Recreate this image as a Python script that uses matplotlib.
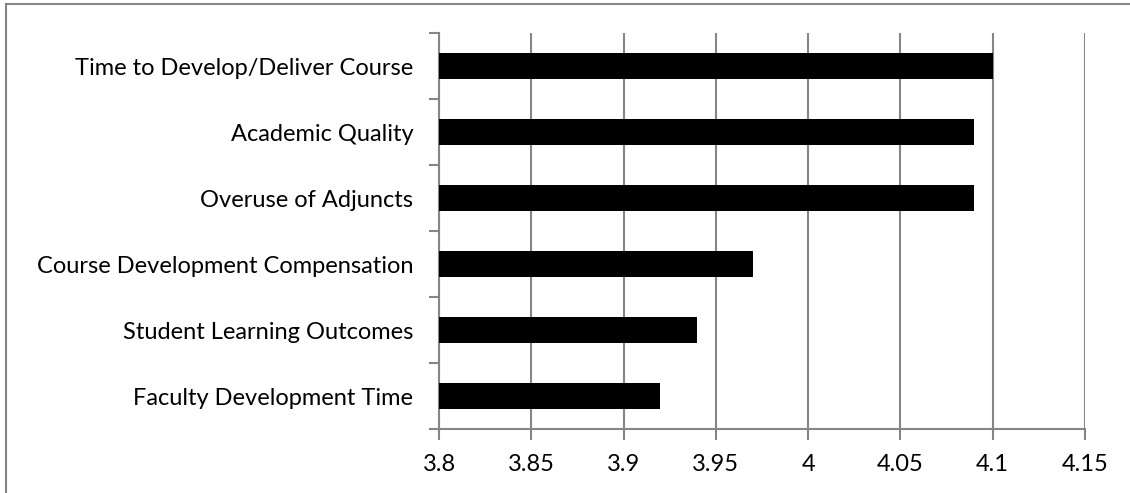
import matplotlib.pyplot as plt
from matplotlib.lines import Line2D
import numpy as np

# mean ratings per barrier, bottom to top
categories = [
    "Faculty Development Time",
    "Student Learning Outcomes",
    "Course Development Compensation",
    "Overuse of Adjuncts",
    "Academic Quality",
    "Time to Develop/Deliver Course",
]
values = [3.92, 3.94, 3.97, 4.09, 4.09, 4.10]
xticks = [3.8, 3.85, 3.9, 3.95, 4.0, 4.05, 4.1, 4.15]
xtick_labels = ["3.8", "3.85", "3.9", "3.95", "4", "4.05", "4.1", "4.15"]

plt.rcParams["font.family"] = ["Lato", "DejaVu Sans"]
grey = "#868686"

fig = plt.figure(figsize=(11.3, 4.93), dpi=100)
ax = fig.add_axes([0.3885, 0.1298, 0.9602 - 0.3885, 0.933 - 0.1298])

y = np.arange(len(categories))
ax.barh(y, np.array(values) - 3.8, left=3.8, height=0.38, color="black", zorder=3)

ax.set_xlim(3.8, 4.15)
ax.set_ylim(-0.5, len(categories) - 0.5)
ax.set_xticks(xticks)
ax.set_xticklabels(xtick_labels, fontsize=17)
ax.set_yticks(y)
ax.set_yticklabels(categories, fontsize=17)

# category separators as minor ticks, labels on the major ones
ax.set_yticks(np.arange(len(categories) + 1) - 0.5, minor=True)
ax.tick_params(axis="y", which="major", length=0, pad=18.5)
ax.tick_params(axis="y", which="minor", length=7, width=1.5, color=grey)
ax.tick_params(axis="x", length=8, width=1.5, color=grey, pad=10)

ax.grid(axis="x", color=grey, linewidth=1.5, zorder=0)
ax.set_axisbelow(True)

for side in ["top", "right"]:
    ax.spines[side].set_visible(False)
for side in ["left", "bottom"]:
    ax.spines[side].set_color(grey)
    ax.spines[side].set_linewidth(1.5)

# outer chart border (top and left edges)
fig.add_artist(Line2D([6 / 1130, 1.0], [1 - 4 / 493] * 2, color=grey, linewidth=1.5))
fig.add_artist(Line2D([6 / 1130] * 2, [0.0, 1 - 4 / 493], color=grey, linewidth=1.5))

fig.savefig("out.png", dpi=100)
